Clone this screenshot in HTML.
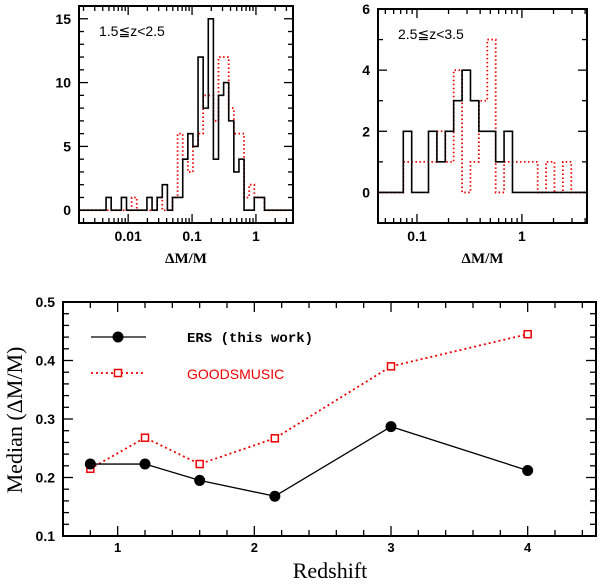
<!DOCTYPE html>
<html><head><meta charset="utf-8"><style>
body{margin:0;background:#fff;}
svg text{font-family:"Liberation Sans",sans-serif;}
svg text.serif{font-family:"Liberation Serif",serif;}
svg text.mono{font-family:"Liberation Mono",monospace;}
</style></head><body>
<svg id="c" width="600" height="581" viewBox="0 0 600 581" xmlns="http://www.w3.org/2000/svg"></svg>
<script>
// ---- data ----
const histLeftStart = -2.346, histLeftWidth = 0.08;
const histLeftBlack = [1,0,0,1,0,0,0,0,1,0,1,2,0,1,1,4,6,5,12,8,15,4,9,10,7,3,4,0,0,1,1,0,0];
const histLeftRed   = [0,0,0,0,0,1,0,0,0,0,1,0,0,1,6,4,3,5,6,9,9,7,12,12,8,6,6,1,2,1,1,0,0];
const histRightStart = -1.13, histRightWidth = 0.08;
const histRightBlack = [2,0,0,2,1,2,3,4,3,2,2,1,2,0,0,0,0,0,0,0,0,0];
const histRightRed   = [1,1,1,1,2,1,4,0,1,3,5,0,1,1,1,1,0,1,0,1,0,0];
const redshift = [0.8,1.2,1.6,2.15,3,4];
const medianERS = [0.223,0.223,0.195,0.168,0.287,0.212];
const medianGM  = [0.215,0.268,0.223,0.267,0.39,0.445];
const xTicksBottom = [1,2,3,4];
const yTicksBottom = [0.1,0.2,0.3,0.4,0.5];
const yTicksLeft = [0,5,10,15];
const yTicksRight = [0,2,4,6];

const svg = document.getElementById('c');
const NS = 'http://www.w3.org/2000/svg';
function mk(tag, attrs, parent){const e=document.createElementNS(NS,tag);for(const k in attrs)e.setAttribute(k,attrs[k]);(parent||svg).appendChild(e);return e;}
function txt(s, attrs, parent){const t=mk('text',attrs,parent);t.textContent=s;return t;}

function panel(name, L,R,T,B, xmin,xmax,ymin,ymax){
  const g = mk('g',{});
  
  
  const sx = v => L + (v-xmin)/(xmax-xmin)*(R-L);
  const sy = v => B - (v-ymin)/(ymax-ymin)*(B-T);
  const fr = mk('rect',{x:L,y:T,width:R-L,height:B-T,fill:'none',stroke:'#000','stroke-width':2},g);
  
  
  return {g,sx,sy,L,R,T,B};
}
function tickX(p, x, len){ mk('line',{x1:x,x2:x,y1:p.B,y2:p.B-len,stroke:'#000','stroke-width':1.3},p.g); mk('line',{x1:x,x2:x,y1:p.T,y2:p.T+len,stroke:'#000','stroke-width':1.3},p.g);}
function tickY(p, y, len){ mk('line',{x1:p.L,x2:p.L+len,y1:y,y2:y,stroke:'#000','stroke-width':1.3},p.g); mk('line',{x1:p.R,x2:p.R-len,y1:y,y2:y,stroke:'#000','stroke-width':1.3},p.g);}

function histPath(p, start, w, counts){
  let d = 'M'+p.L+','+p.sy(0)+' L'+p.sx(start)+','+p.sy(0);
  for(let i=0;i<counts.length;i++){
    const x0 = p.sx(start+i*w), x1 = p.sx(start+(i+1)*w), y = p.sy(counts[i]);
    d += ' L'+x0+','+y+' L'+x1+','+y;
  }
  d += ' L'+p.sx(start+counts.length*w)+','+p.sy(0)+' L'+p.R+','+p.sy(0);
  return d;
}

function histPanel(name, L,R,T,B, xmin,xmax,ymin,ymax, start,w, black, red, yTicks, yMinorStep, xLabels, label){
  const p = panel(name,L,R,T,B,xmin,xmax,ymin,ymax);
  for(let dec=Math.floor(xmin); dec<=Math.ceil(xmax); dec++){
    for(let m=1;m<10;m++){
      const lv = dec+Math.log10(m);
      if(lv<=xmin||lv>=xmax) continue;
      tickX(p, p.sx(lv), m===1?9:5);
    }
  }
  for(let v=Math.ceil(ymin); v<=ymax; v+=yMinorStep){
    const major = yTicks.indexOf(v)>=0;
    tickY(p, p.sy(v), major?9:5);
  }
  yTicks.forEach(v=>{
    const t=txt(String(v),{x:L-8,y:p.sy(v)+5,'font-size':14,'font-weight':'bold','text-anchor':'end'},p.g);
    
    
  });
  xLabels.forEach(s=>{
    const t=txt(s,{x:p.sx(Math.log10(parseFloat(s))),y:B+18,'font-size':14,'font-weight':'bold','text-anchor':'middle'},p.g);
    
    
  });
  const r = mk('path',{d:histPath(p,start,w,red),fill:'none',stroke:'#e00','stroke-width':1.8,'stroke-dasharray':'1.5,2.5'},p.g);
  
  
  const b = mk('path',{d:histPath(p,start,w,black),fill:'none',stroke:'#000','stroke-width':1.6},p.g);
  
  
  const lt = txt(label,{x:L+20,y:T+30,'font-size':14},p.g);
  
  
  const xt = txt('\u0394M/M',{x:(L+R)/2,y:B+40,'font-size':15,'font-weight':'bold','text-anchor':'middle',class:'serif'},p.g);
  
  
}

histPanel('hist-low-z', 79,293,6,223, Math.log10(0.0017),0.58,-1,16, histLeftStart,histLeftWidth, histLeftBlack,histLeftRed, yTicksLeft,1,['0.01','0.1','1'],'1.5\u2266z<2.5');
histPanel('hist-high-z', 378,587,9,223, -1.371,0.62,-1,6, histRightStart,histRightWidth, histRightBlack,histRightRed, yTicksRight,1,['0.1','1'],'2.5\u2266z<3.5');

// bottom panel
const pb = panel('median-chart', 63,596,302,536, 0.6,4.5,0.1,0.5);
for(let i=0;i<=20;i++){const v=0.6+i*0.2; if(v>=4.5) break; const major=Math.abs(v-Math.round(v))<1e-6; tickX(pb,pb.sx(v),major?10:6);}
for(let i=1;i<20;i++){const v=0.1+i*0.02; const major=i%5===0; tickY(pb,pb.sy(v),major?10:6);}
xTicksBottom.forEach(v=>{const t=txt(String(v),{x:pb.sx(v),y:552,'font-size':13,'font-weight':'bold','text-anchor':'middle'},pb.g);
  
  });
yTicksBottom.forEach(v=>{const t=txt(v.toFixed(1),{x:55,y:pb.sy(v)+5,'font-size':14,'font-weight':'bold','text-anchor':'end'},pb.g);
  
  });
const xtitle = txt('Redshift',{x:330,y:578,'font-size':22,'text-anchor':'middle',class:'serif'},pb.g);


const ytitle = txt('Median (\u0394M/M)',{x:0,y:0,'font-size':22,'text-anchor':'middle',class:'serif',transform:'translate(22,420) rotate(-90)'},pb.g);



const gmPts = redshift.map((z,i)=>pb.sx(z)+','+pb.sy(medianGM[i])).join(' ');
const gmLine = mk('polyline',{points:gmPts,fill:'none',stroke:'#e00','stroke-width':1.8,'stroke-dasharray':'2,3'},pb.g);


const ersPts = redshift.map((z,i)=>pb.sx(z)+','+pb.sy(medianERS[i])).join(' ');
const ersLine = mk('polyline',{points:ersPts,fill:'none',stroke:'#000','stroke-width':1.3},pb.g);


redshift.forEach((z,i)=>{
  const s = mk('rect',{x:pb.sx(z)-3.5,y:pb.sy(medianGM[i])-3.5,width:7,height:7,fill:'#fff',stroke:'#e00','stroke-width':1.5},pb.g);
  
  
  const c = mk('circle',{cx:pb.sx(z),cy:pb.sy(medianERS[i]),r:5.5,fill:'#000'},pb.g);
  
  
});
// legend
const lg = mk('g',{});


mk('line',{x1:91,x2:146,y1:337,y2:337,stroke:'#000','stroke-width':1.3},lg);
mk('circle',{cx:118,cy:337,r:5.5,fill:'#000'},lg);
const l1 = txt('ERS (this work)',{x:187,y:342,'font-size':14,'font-weight':'bold',class:'mono'},lg);


mk('line',{x1:91,x2:146,y1:373,y2:373,stroke:'#e00','stroke-width':1.8,'stroke-dasharray':'2,3'},lg);
mk('rect',{x:114.5,y:369.5,width:7,height:7,fill:'#fff',stroke:'#e00','stroke-width':1.5},lg);
const l2 = txt('GOODSMUSIC',{x:187,y:379,'font-size':14,fill:'#e00'},lg);


</script>
</body></html>
